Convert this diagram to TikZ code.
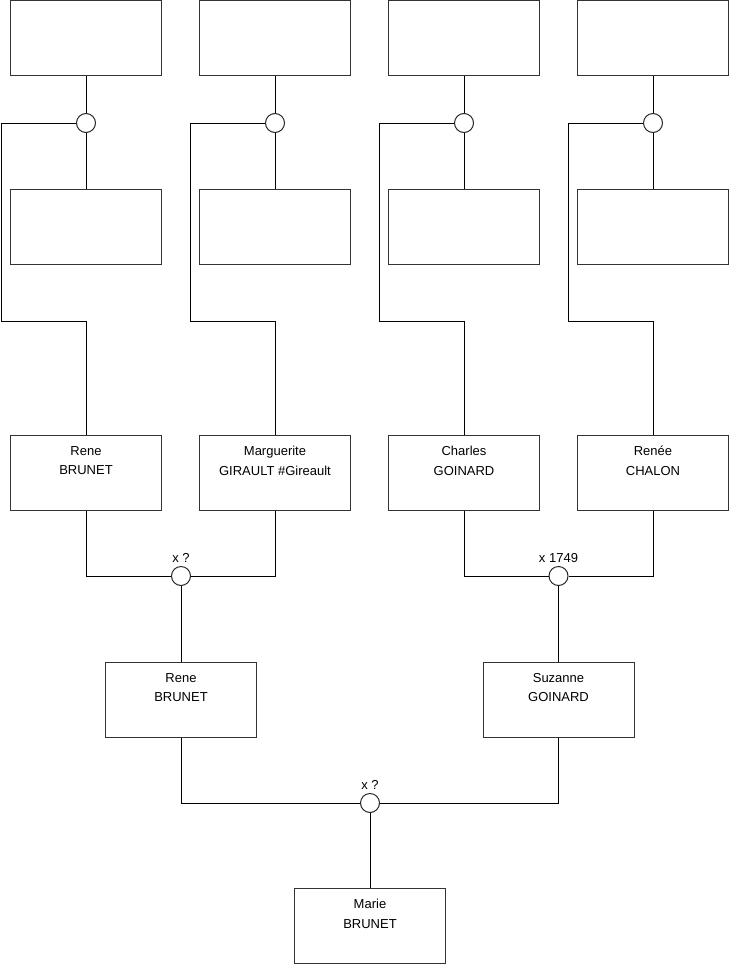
\documentclass[tikz,border=0pt]{standalone}
\usepackage{fontspec}
\setmainfont{Liberation Sans}
\begin{document}
\begin{tikzpicture}[x=1pt,y=-1pt,
  box/.style={draw=black!80,line width=1pt,minimum width=151pt,minimum height=75pt,inner sep=0pt,fill=white},
  txt/.style={anchor=north,align=center,inner sep=0pt,font=\fontsize{13}{19.5}\selectfont},
  knot/.style={circle,draw=black!85,line width=1pt,fill=white,minimum size=19pt,inner sep=0pt},
  lbl/.style={inner sep=0pt,font=\fontsize{13}{15}\selectfont},
  conn/.style={line width=1pt,draw=black}]
\useasboundingbox (0,0) rectangle (740,975);
% top row (empty)
\node[box] (t1) at (86,38) {};
\node[box] (t2) at (275,38) {};
\node[box] (t3) at (464,38) {};
\node[box] (t4) at (653,38) {};
% second row (empty)
\node[box] (s1) at (86,226.5) {};
\node[box] (s2) at (275,226.5) {};
\node[box] (s3) at (464,226.5) {};
\node[box] (s4) at (653,226.5) {};
% top knots
\node[knot] (k1) at (86,123) {};
\node[knot] (k2) at (275,123) {};
\node[knot] (k3) at (464,123) {};
\node[knot] (k4) at (653,123) {};
% third row
\node[box] (p1) at (86,472.5) {};
\node[box] (p2) at (275,472.5) {};
\node[box] (p3) at (464,472.5) {};
\node[box] (p4) at (653,472.5) {};
\node[txt] (p1t) at ([yshift=-11.5]p1.north) {Rene\\BRUNET};
\node[txt] (p2t) at ([yshift=-11.5]p2.north) {Marguerite\\GIRAULT \#Gireault};
\node[txt] (p3t) at ([yshift=-11.5]p3.north) {Charles\\GOINARD};
\node[txt] (p4t) at ([yshift=-11.5]p4.north) {Renée\\CHALON};
% marriage knots
\node[knot,label={[lbl,label distance=3pt]above:x ?}] (m1) at (181,576) {};
\node[knot,label={[lbl,label distance=3pt]above:x 1749}] (m2) at (558.5,576) {};
% fourth row
\node[box] (q1) at (181,699.5) {};
\node[box] (q2) at (558.5,699.5) {};
\node[txt] (q1t) at ([yshift=-11.5]q1.north) {Rene\\BRUNET};
\node[txt] (q2t) at ([yshift=-11.5]q2.north) {Suzanne\\GOINARD};
\node[knot,label={[lbl,label distance=3pt]above:x ?}] (m3) at (370,803) {};
% fifth row
\node[box] (r1) at (370,925.5) {};
\node[txt] (r1t) at ([yshift=-11.5]r1.north) {Marie\\BRUNET};
% bend coordinates
\coordinate (b1) at (1,321);
\coordinate (b2) at (190,321);
\coordinate (b3) at (379,321);
\coordinate (b4) at (568,321);
% connectors, top part
\foreach \i in {1,2,3,4}{
  \draw[conn] (t\i.south) -- (k\i.north);
  \draw[conn] (k\i.south) -- (s\i.north);
  \draw[conn] (k\i.west) -| (b\i) -| (p\i.north);
}
% lower connectors
\draw[conn] (p1.south) |- (m1.west);
\draw[conn] (p2.south) |- (m1.east);
\draw[conn] (m1.south) -- (q1.north);
\draw[conn] (p3.south) |- (m2.west);
\draw[conn] (p4.south) |- (m2.east);
\draw[conn] (m2.south) -- (q2.north);
\draw[conn] (q1.south) |- (m3.west);
\draw[conn] (q2.south) |- (m3.east);
\draw[conn] (m3.south) -- (r1.north);
\end{tikzpicture}
\end{document}
